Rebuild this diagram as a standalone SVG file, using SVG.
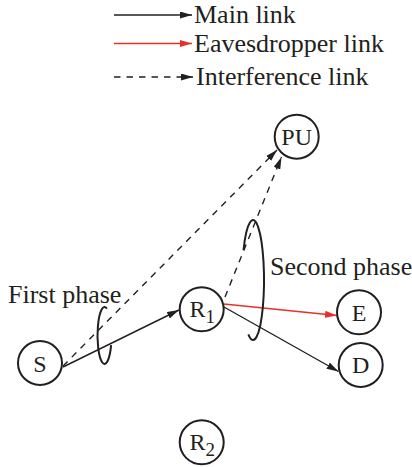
<svg xmlns="http://www.w3.org/2000/svg" width="412" height="467" viewBox="0 0 412 467">
<style>
.t{font-family:"Liberation Serif","Times New Roman",serif;fill:#231f20}
.lg{font-size:26px}
.nd{font-size:24px}
.node circle{fill:#fff;stroke:#231f20;stroke-width:2}
.ln{fill:none;stroke:#231f20;stroke-width:1.4}
.red{stroke:#e8302a}
.dash{stroke-dasharray:6.5 6}
.ph{fill:none;stroke:#231f20;stroke-width:2}
</style>
<defs>
<marker id="ab" viewBox="0 0 12 7" refX="12" refY="3.5" markerWidth="12" markerHeight="7" markerUnits="userSpaceOnUse" orient="auto"><path d="M0,0L12,3.5L0,7z" fill="#231f20"/></marker>
<marker id="ar" viewBox="0 0 12 7" refX="12" refY="3.5" markerWidth="12" markerHeight="7" markerUnits="userSpaceOnUse" orient="auto"><path d="M0,0L12,3.5L0,7z" fill="#e8302a"/></marker>
</defs>
<g id="legend">
<line class="ln" x1="114" y1="15" x2="192" y2="15" marker-end="url(#ab)"/>
<text class="t lg" x="194" y="23">Main link</text>
<line class="ln red" x1="114" y1="43.5" x2="192" y2="43.5" marker-end="url(#ar)"/>
<text class="t lg" x="194" y="52">Eavesdropper link</text>
<line class="ln dash" x1="114" y1="77" x2="193" y2="77" marker-end="url(#ab)"/>
<text class="t lg" x="196" y="85">Interference link</text>
</g>
<g id="connectors">
<line class="ln dash" x1="63" y1="366" x2="277" y2="150" marker-end="url(#ab)"/>
<line class="ln dash" x1="225" y1="297" x2="281.5" y2="157" marker-end="url(#ab)"/>
<line class="ln" x1="63" y1="367" x2="179" y2="310" marker-end="url(#ab)"/>
<line class="ln red" x1="224" y1="304" x2="337" y2="315.5" marker-end="url(#ar)"/>
<line class="ln" x1="224" y1="307" x2="338.5" y2="371.5" marker-end="url(#ab)"/>
</g>
<g id="first-phase">
<path class="ph" d="M106.9,308.7A7,28.5 0 1 0 111.1,345.2"/>
<text class="t lg" x="8" y="303">First phase</text>
</g>
<g id="second-phase">
<path class="ph" d="M243.5,250A11,60 0 1 1 248.35,334.4"/>
<text class="t lg" x="270" y="275">Second phase</text>
</g>
<g id="PU" class="node"><circle cx="296.7" cy="136.7" r="22"/><text class="t nd" x="296.7" y="145" text-anchor="middle">PU</text></g>
<g id="S" class="node"><circle cx="40" cy="363" r="22"/><text class="t nd" x="40" y="371.5" text-anchor="middle">S</text></g>
<g id="R1" class="node"><circle cx="201.7" cy="309.3" r="22"/><text class="t nd" x="189.5" y="317">R<tspan font-size="19" dy="6">1</tspan></text></g>
<g id="E" class="node"><circle cx="359" cy="312.3" r="22"/><text class="t nd" x="359" y="320.5" text-anchor="middle">E</text></g>
<g id="D" class="node"><circle cx="360.7" cy="365" r="22"/><text class="t nd" x="360.7" y="373" text-anchor="middle">D</text></g>
<g id="R2" class="node"><circle cx="201.7" cy="442.3" r="22"/><text class="t nd" x="189.5" y="450">R<tspan font-size="19" dy="6">2</tspan></text></g>
</svg>
